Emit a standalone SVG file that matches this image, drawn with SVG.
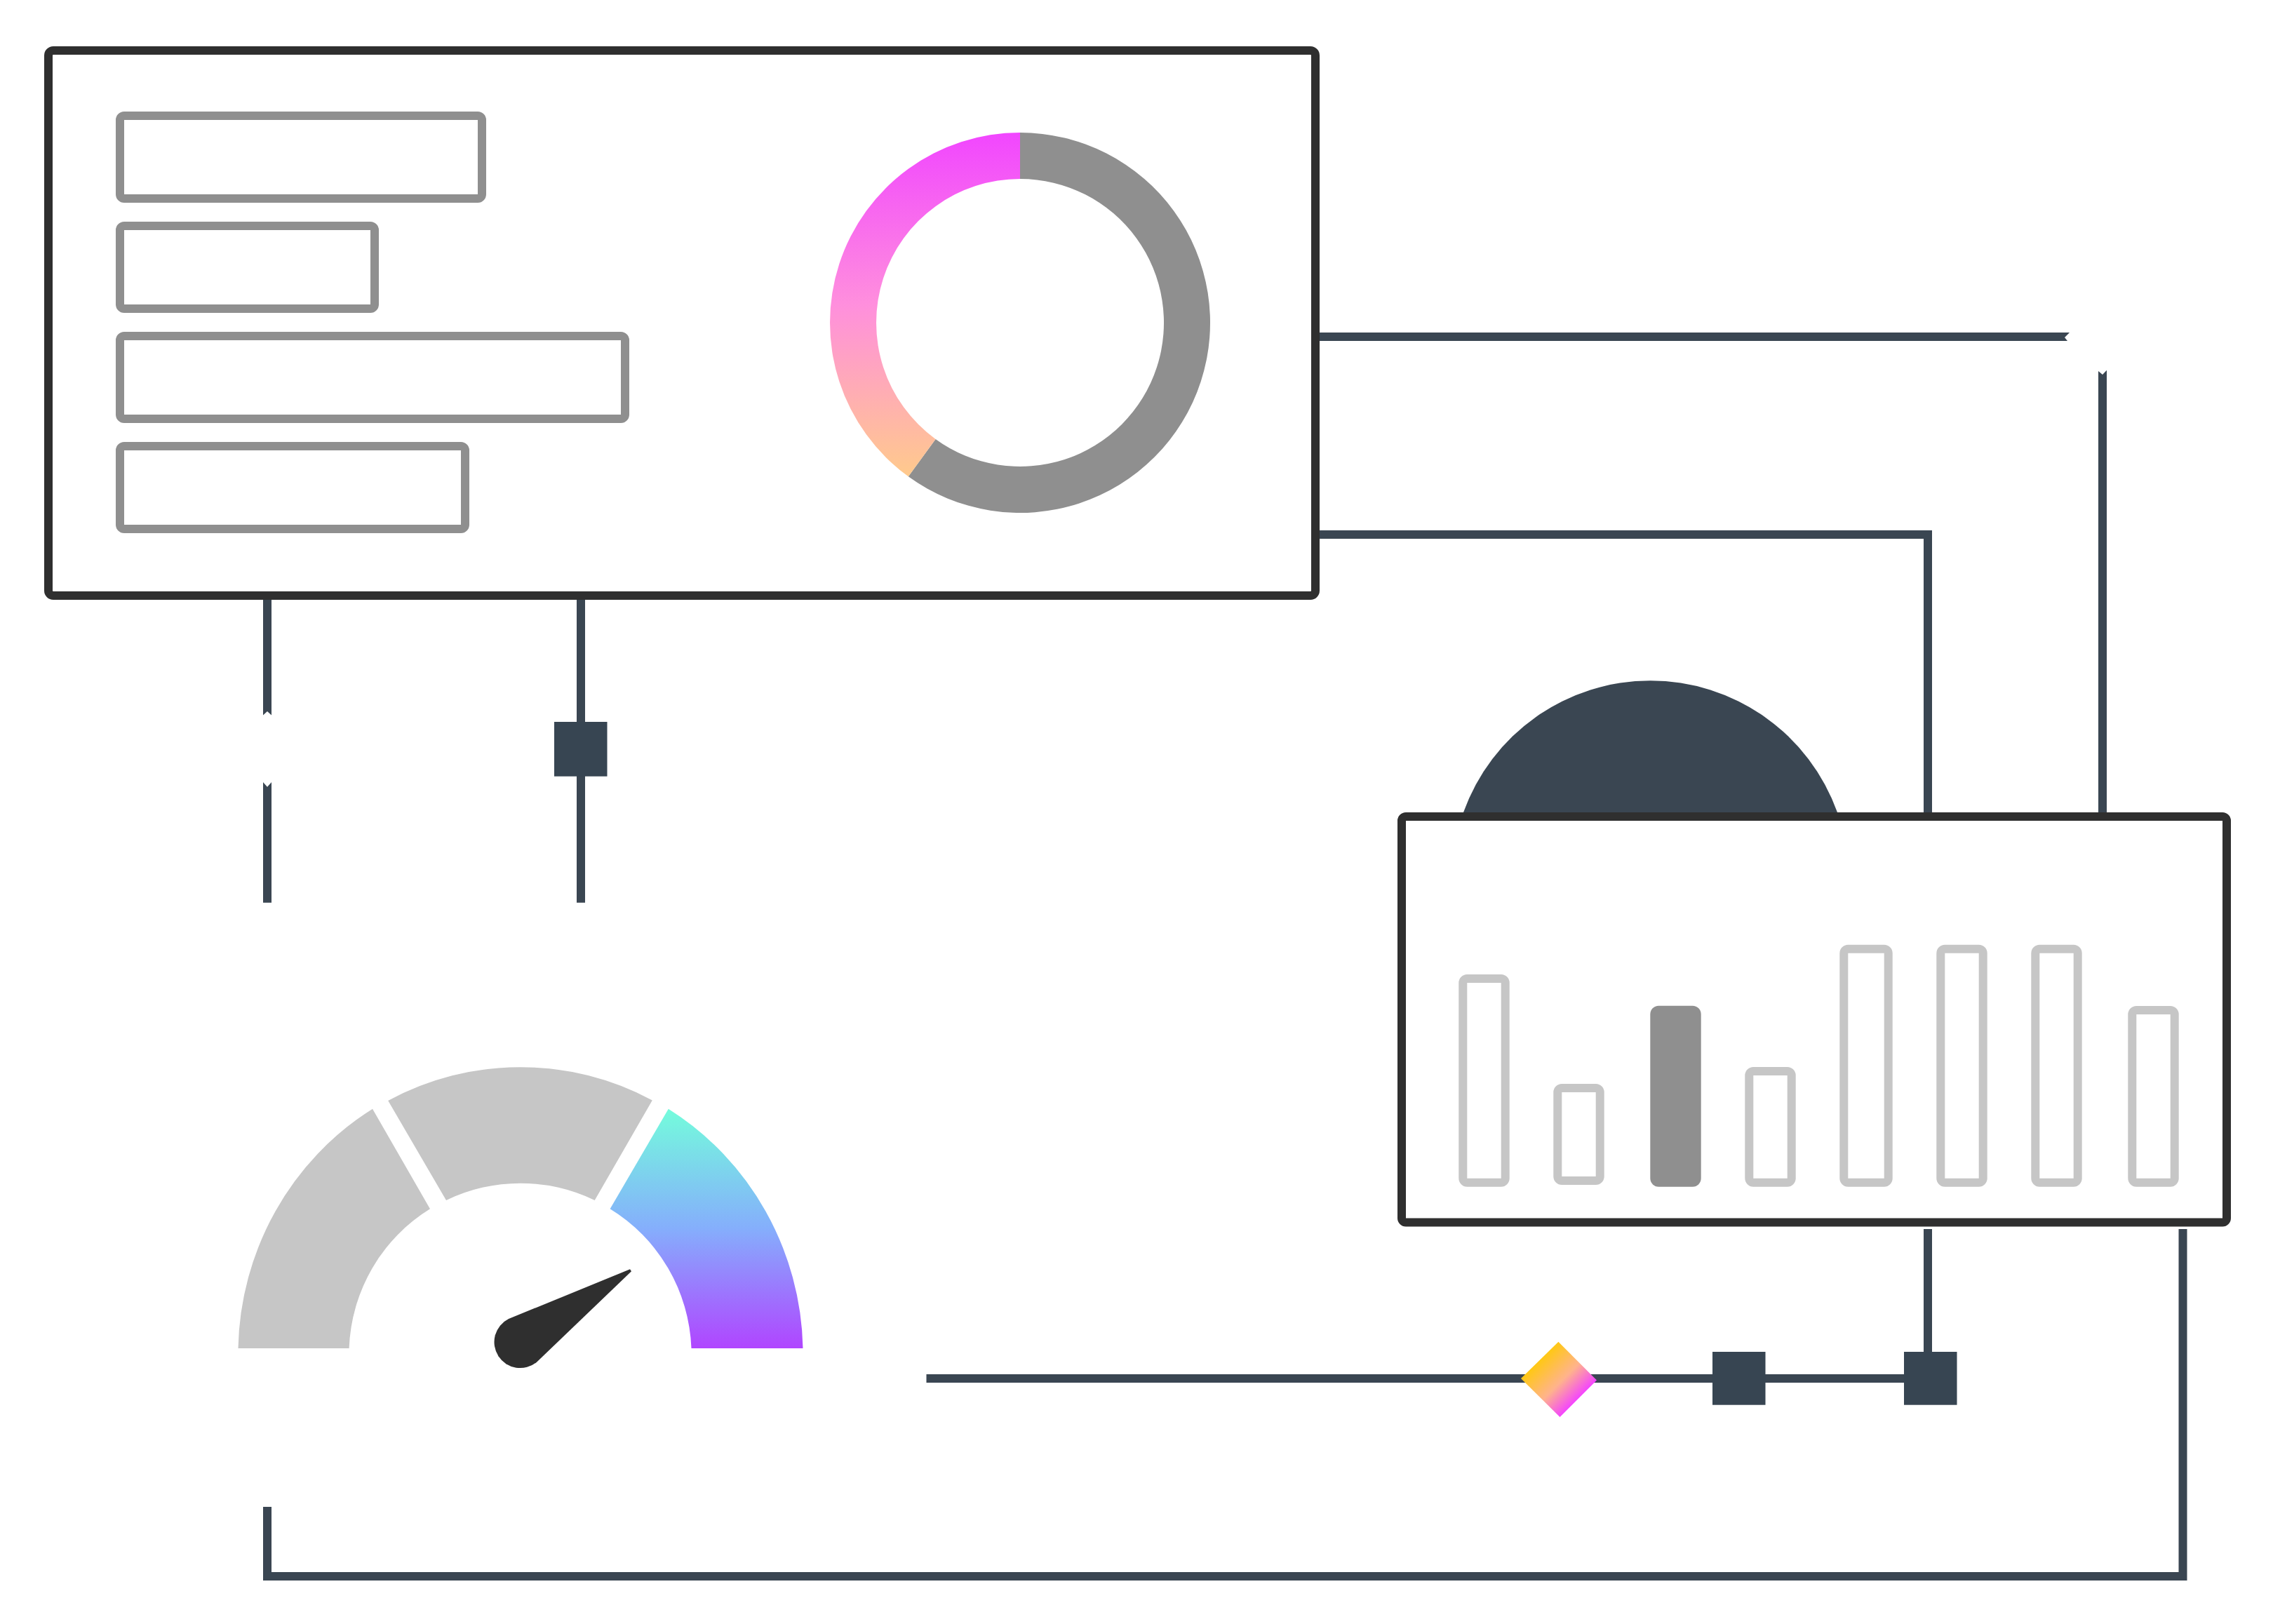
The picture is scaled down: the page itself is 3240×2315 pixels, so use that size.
<svg xmlns="http://www.w3.org/2000/svg" width="3240" height="2315" viewBox="0 0 3240 2315">
<style>
.frame{fill:#fff;stroke:#2f2f2f;stroke-width:12}
.bar{fill:#fff;stroke:#8f8f8f;stroke-width:12}
.col{fill:#fff;stroke:#c6c6c6;stroke-width:12}
.conn{fill:none;stroke:#3a4652;stroke-width:12;stroke-linejoin:miter}
.connf{fill:#3a4652}
.sq{fill:#374552}
</style>
<defs>
<linearGradient id="gDonut" gradientUnits="userSpaceOnUse" x1="0" y1="189" x2="0" y2="679">
<stop offset="0" stop-color="#f146ff"/><stop offset=".5" stop-color="#ff8fdd"/><stop offset="1" stop-color="#ffca8c"/>
</linearGradient>
<linearGradient id="gGauge" gradientUnits="userSpaceOnUse" x1="0" y1="1581" x2="0" y2="1922">
<stop offset="0" stop-color="#74fcdc"/><stop offset=".5" stop-color="#85aefc"/><stop offset="1" stop-color="#b045ff"/>
</linearGradient>
<linearGradient id="gDiamond" gradientUnits="userSpaceOnUse" x1="2195" y1="1939" x2="2250" y2="1994">
<stop offset="0" stop-color="#ffc814"/><stop offset=".55" stop-color="#ffb38c"/><stop offset="1" stop-color="#f444ff"/>
</linearGradient>
</defs>
<rect width="3240" height="2315" fill="#fff"/>
<g id="connectors">
<polygon class="connf" points="375,850 387,850 387,1019.5 381,1014 375,1019.5"/>
<polygon class="connf" points="375,1286.7 387,1286.7 387,1115 381,1121.7 375,1115"/>
<path class="conn" d="M828,850V1286.7"/>
<polygon class="connf" points="1875,474 2950,474 2943,481 2947,486 1875,486"/>
<polygon class="connf" points="2991,1164 3003,1164 3003,527.7 2997,534 2991,529"/>
<path class="conn" d="M1875,762H2748V1164"/>
<path class="conn" d="M1320.5,1965H2714"/>
<path class="conn" d="M2748,1752V1930"/>
<path class="conn" d="M3111.5,1752V2247H381V2148"/>
</g>
<g id="panel-top">
<rect class="frame" x="69" y="72" width="1806" height="777" rx="7"/>
<rect class="bar" x="171" y="165" width="516" height="118" rx="6"/>
<rect class="bar" x="171" y="322" width="363" height="118" rx="6"/>
<rect class="bar" x="171" y="479" width="720" height="118" rx="6"/>
<rect class="bar" x="171" y="636" width="492" height="118" rx="6"/>
</g>
<g id="donut">
<path fill="#8f8f8f" d="M1454,189A271,271 0 1 1 1294.8,679.3L1333.6,625.9A205,205 0 1 0 1454,255Z"/>
<path fill="url(#gDonut)" d="M1454,189A271,271 0 0 0 1294.8,679.3L1333.6,625.9A205,205 0 0 1 1454,255Z"/>
</g>
<g id="dome">
<path fill="#3a4652" d="M2086,1164V1158A283,283 0 0 1 2619,1158V1164Z"/>
</g>
<g id="panel-right">
<rect class="frame" x="1998" y="1164" width="1176" height="578.5" rx="6"/>
<rect class="col" x="2085.3" y="1395" width="60.4" height="290.7" rx="6"/>
<rect class="col" x="2220.3" y="1551" width="60.4" height="132" rx="6"/>
<rect x="2352.3" y="1433.7" width="72.4" height="258" rx="12" fill="#8f8f8f"/>
<rect class="col" x="2493.3" y="1527" width="60.4" height="158.7" rx="6"/>
<rect class="col" x="2628.3" y="1352.7" width="63.4" height="333" rx="6"/>
<rect class="col" x="2766.3" y="1352.7" width="60.4" height="333" rx="6"/>
<rect class="col" x="2901.3" y="1352.7" width="60.4" height="333" rx="6"/>
<rect class="col" x="3039.3" y="1440" width="60.4" height="245.7" rx="6"/>
</g>
<g id="gauge">
<path fill="#c6c6c6" d="M339.5,1922A403,411 0 0 1 531,1580.7L613,1723.3A240,243 0 0 0 497.6,1922Z"/>
<path fill="#c6c6c6" d="M553.2,1569A403,411 0 0 1 929.8,1568.5L847.7,1711A245,248 0 0 0 636,1711Z"/>
<path fill="url(#gGauge)" d="M952.8,1580.7A403,411 0 0 1 1144.5,1922H985.5A240,243 0 0 0 869.6,1723.3Z"/>
<path fill="#2f2f2f" d="M898,1809.3L900,1812.3L765,1941.7A37,37 0 1 1 725,1880Z"/>
</g>
<g id="square-a"><rect class="sq" x="790" y="1029" width="75.5" height="77.7"/></g>
<g id="diamond"><polygon fill="url(#gDiamond)" points="2168,1965 2221.4,1912.8 2276,1967.5 2223.5,2020"/></g>
<g id="square-b"><rect class="sq" x="2441" y="1927" width="75.5" height="75.7"/></g>
<g id="square-c"><rect class="sq" x="2714" y="1927" width="75.5" height="75.7"/></g>
</svg>
